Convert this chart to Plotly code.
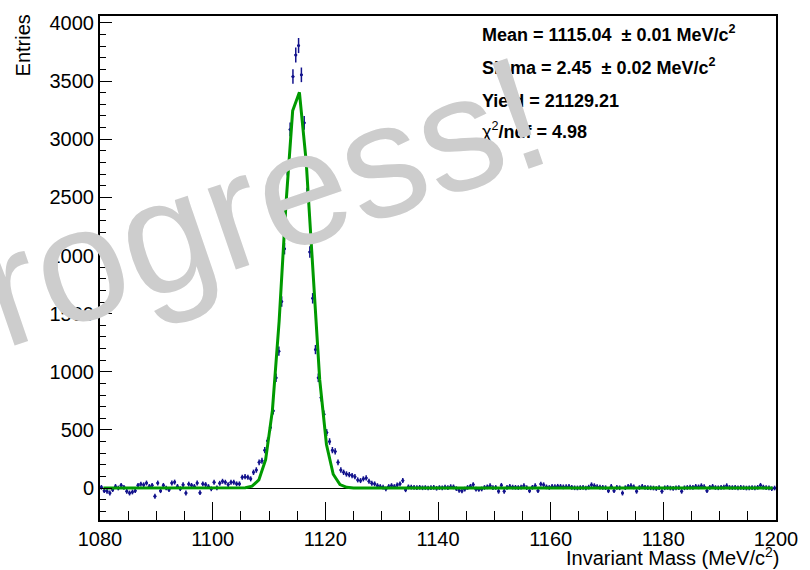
import numpy as np
import plotly.graph_objects as go

# ---------------- data ----------------
bin_low = 1080.0
bin_width = 0.5

counts_left = [6, -23, -28, -43, -14, 14, 0, 23, 6, -28,
               -43, -34, -23, 23, 34, 28, 43, 14, 23, -71,
               43, -23, 23, 0, -14, 43, 51, 14, -6, 28,
               -43, 34, 23, 14, 43]
counts_rise = [-40, 36, 30, 13, -7, 50, 2, 41, 58, 50,
               30, 50, 50, 36, 36,
               93, 98, 93, 79, 135, 155, 221, 235, 326, 406]
counts_peak = [521, 664, 948, 1177, 1604, 2059, 2744, 3084, 3539, 3725,
               3806, 3554, 3141, 2529, 2031, 1632, 1191, 948, 778, 634,
               477]
counts_fall = [400, 326, 315, 221, 155, 135, 121, 115, 107, 98,
               70, 64, 79, 87, 58, 41, 36, 21, 13, 7,
               -7, 13, 21, 13]
counts_right = [27, 36, 64, -15, 10, 8, 5, 3, 6, 2,
                4, 0, 3, 5, -2, 4, 2, 8, 3, 12,
                10, -5, -20, -25, -10, 5, 15, 30, -10, -12,
                -8, 5, 10, 20, 3, 5, -28, 23, -28, 5,
                14, 8, 6, 4, 8, 20, 3, -23, 6, 20,
                -23, 34, 28, 10, 5, 14, 12, 15, 14, 10,
                12, 14, 6, 2, 1, 4, 5, 0, 8, 28,
                20, 12, 8, 5, 3, -23, 14, -23, 5, 2,
                -43, 3, 14, 20, 10, -28, 4, 14, 6, 3,
                2, 0, -4, 3, -28, 2, 5, 0, -3, 2,
                4, -28, 2, 5, 8, 6, 14, 10, 20, 12,
                -23, 6, 14, 4, 2, 6, 8, 20, 5, 4,
                6, 2, 5, 3, 0, 2, 4, 1, 6, 23,
                8, 3, 2, -6, 0]

counts = np.array(counts_left + counts_rise + counts_peak + counts_fall + counts_right, dtype=float)
centers = bin_low + bin_width * (np.arange(len(counts)) + 0.5)
errors = np.sqrt(np.abs(counts) + 400.0)

# fit result shown in the stats box
fit_mean = 1115.04
fit_sigma = 2.45
fit_yield = 21129.21
fit_chi2ndf = 4.98
fit_npx = 100

x_ticks = [1080, 1100, 1120, 1140, 1160, 1180, 1200]
y_ticks = [0, 500, 1000, 1500, 2000, 2500, 3000, 3500, 4000]

xfit = 1080.0 + (np.arange(fit_npx) + 0.5) * (120.0 / fit_npx)
amp = fit_yield / (fit_sigma * np.sqrt(2 * np.pi))
yfit = amp * np.exp(-0.5 * ((xfit - fit_mean) / fit_sigma) ** 2)

# ---------------- figure ----------------
W, H = 810, 570
L, R, T, B = 100, 782, 12, 520

def px(xp):
    return (xp - L) / (R - L)

def py(yp):
    return (B - yp) / (B - T)

FONT = "Liberation Sans, Arial, sans-serif"
BLUE = "#12128c"
GREEN = "#009a00"

fig = go.Figure()
fig.add_trace(go.Scatter(
    x=centers, y=counts, mode="markers",
    marker=dict(color=BLUE, size=3),
    error_y=dict(type="data", array=errors, color=BLUE, thickness=1.5, width=0),
    error_x=dict(type="constant", value=bin_width / 2, color=BLUE, thickness=1.2, width=0),
    showlegend=False, cliponaxis=True,
))
fig.add_trace(go.Scatter(
    x=xfit, y=yfit, mode="lines",
    line=dict(color=GREEN, width=3),
    showlegend=False,
))

axis_common = dict(
    showgrid=False, showline=True, mirror=True, linecolor="black", linewidth=2,
    ticks="inside", tickcolor="black", tickwidth=1,
    tickfont=dict(family=FONT, size=20, color="black"),
)
fig.update_xaxes(
    range=[1080, 1200], tickmode="array", tickvals=x_ticks,
    ticktext=[str(v) for v in x_ticks], ticklen=18, zeroline=False,
    minor=dict(ticks="inside", dtick=5, tick0=1080, ticklen=9, tickcolor="black", tickwidth=1),
    **axis_common,
)
fig.update_yaxes(
    range=[-275, 4060], tickmode="array", tickvals=y_ticks,
    ticktext=[str(v) for v in y_ticks], ticklen=12,
    zeroline=True, zerolinecolor="black", zerolinewidth=1,
    minor=dict(ticks="inside", dtick=100, tick0=0, ticklen=6, tickcolor="black", tickwidth=1),
    **axis_common,
)

stats = [
    ("<b>Mean = 1115.04 \u00a0\u00b1 0.01 MeV/c<sup>2</sup></b>", 30),
    ("<b>Sigma = 2.45 \u00a0\u00b1 0.02 MeV/c<sup>2</sup></b>", 63),
    ("<b>Yield = 21129.21</b>", 98),
    ("\u03c7<sup>2</sup><b>/ndf = 4.98</b>", 127),
]
annotations = []
for txt, yp in stats:
    annotations.append(dict(
        text=txt, xref="paper", yref="paper", x=px(483), y=py(yp),
        xanchor="left", yanchor="middle", showarrow=False,
        font=dict(family=FONT, size=18, color="black"),
    ))

annotations.append(dict(
    text="Entries", xref="paper", yref="paper", x=px(22), y=py(42),
    xanchor="center", yanchor="middle", textangle=-90, showarrow=False,
    font=dict(family=FONT, size=20, color="black"),
))
annotations.append(dict(
    text="Invariant Mass (MeV/c<sup>2</sup>)", xref="paper", yref="paper",
    x=px(787), y=py(557), xanchor="right", yanchor="middle", showarrow=False,
    font=dict(family=FONT, size=20, color="black"),
))
annotations.append(dict(
    text="Work in progress!", xref="paper", yref="paper",
    x=px(-61), y=py(310), xanchor="center", yanchor="middle", textangle=-19,
    showarrow=False, font=dict(family=FONT, size=162, color="#cdcdcd"),
))

fig.update_layout(
    width=W, height=H,
    margin=dict(l=L, r=W - R, t=T, b=H - B),
    paper_bgcolor="white", plot_bgcolor="white",
    annotations=annotations,
    font=dict(family=FONT),
)

fig.write_html("out.html")
